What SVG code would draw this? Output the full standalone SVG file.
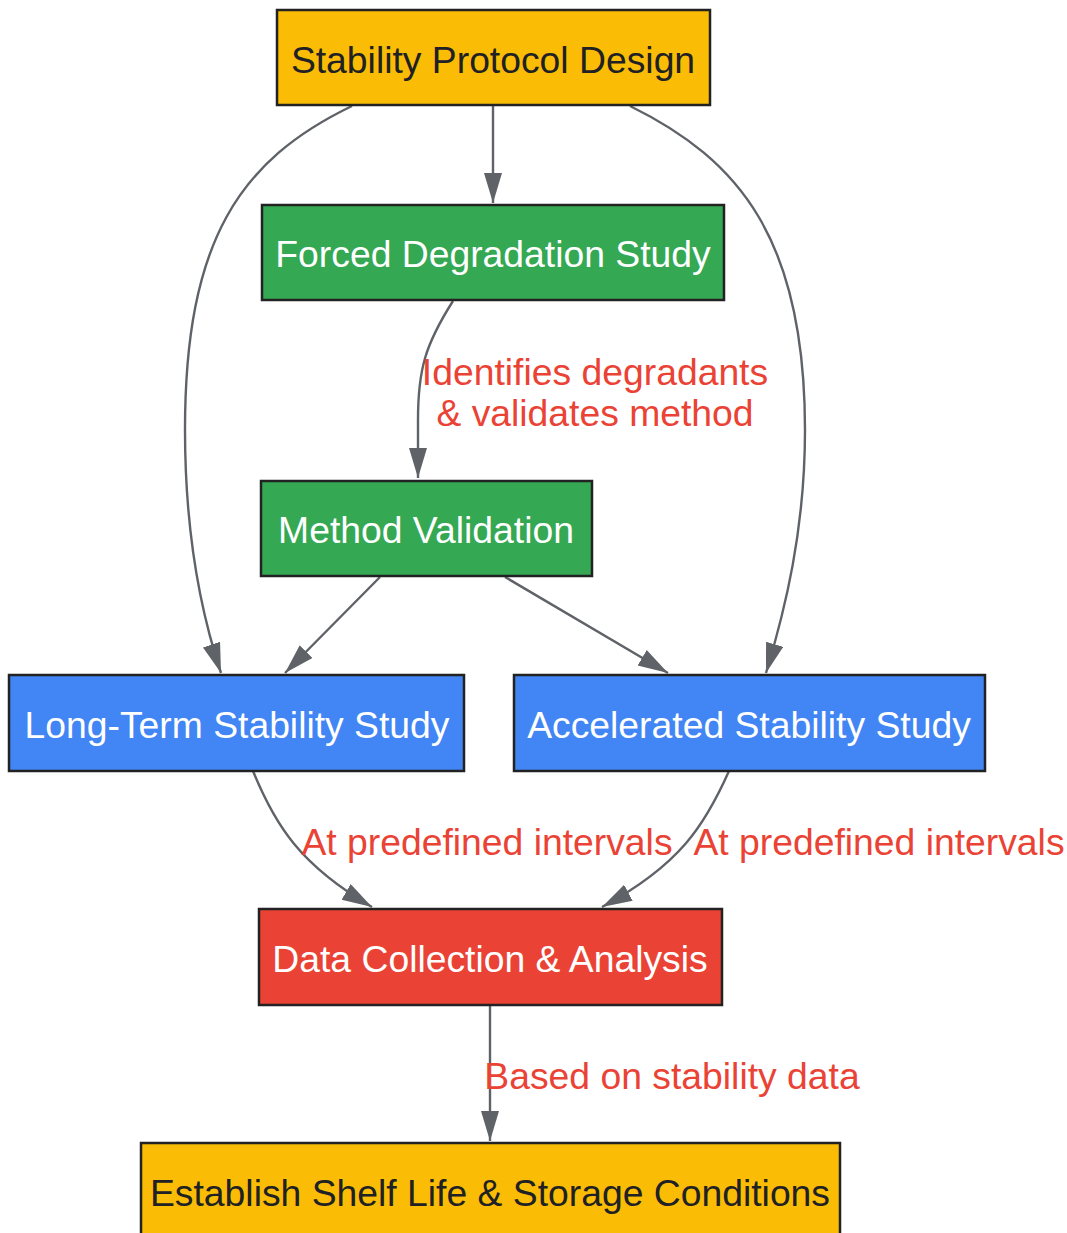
<svg xmlns="http://www.w3.org/2000/svg" width="1067" height="1233" viewBox="0 0 1067 1233">
<style>
.n rect{stroke:#222222;stroke-width:2.5}
.t{font-family:"Liberation Sans",Arial,sans-serif;font-size:37.3px;text-anchor:middle}
.dark{fill:#202124}
.light{fill:#ffffff}
.lbl{font-family:"Liberation Sans",Arial,sans-serif;font-size:37.3px;fill:#EA4335;text-anchor:middle}
.e path{fill:none;stroke:#5F6368;stroke-width:2.4}
</style>
<defs>
<marker id="ah" markerUnits="userSpaceOnUse" markerWidth="31" markerHeight="20" refX="30" refY="9" orient="auto">
<path d="M0,0 L30,9 L0,18 z" fill="#5F6368"/>
</marker>
</defs>
<rect width="1067" height="1233" fill="#ffffff"/>
<g id="edges" class="e">
<path d="M493,106 L493,203" marker-end="url(#ah)"/>
<path d="M352,106 C240,160 185,240 185,430 C185,530 200,610 221,673" marker-end="url(#ah)"/>
<path d="M630,106 C740,160 805,240 805,430 C805,530 785,610 766,673" marker-end="url(#ah)"/>
<path d="M453,301 C425,345 418,370 418,420 L418,478" marker-end="url(#ah)"/>
<path d="M380,577 L285,673" marker-end="url(#ah)"/>
<path d="M505,577 L668,673" marker-end="url(#ah)"/>
<path d="M253,771 C275,825 300,865 372,907" marker-end="url(#ah)"/>
<path d="M729,771 C705,825 680,865 602,907" marker-end="url(#ah)"/>
<path d="M490,1006 L490,1141" marker-end="url(#ah)"/>
</g>
<g id="edge-labels">
<text class="lbl" x="595" y="385">Identifies degradants</text>
<text class="lbl" x="595" y="426">&amp; validates method</text>
<text class="lbl" x="487" y="855">At predefined intervals</text>
<text class="lbl" x="879" y="855">At predefined intervals</text>
<text class="lbl" x="672" y="1089">Based on stability data</text>
</g>
<g id="protocol" class="n">
<rect x="277" y="10" width="433" height="95" fill="#FBBC05"/>
<text class="t dark" x="493" y="73">Stability Protocol Design</text>
</g>
<g id="forced" class="n">
<rect x="262" y="205" width="462" height="95" fill="#34A853"/>
<text class="t light" x="493" y="267">Forced Degradation Study</text>
</g>
<g id="method" class="n">
<rect x="261" y="481" width="331" height="95" fill="#34A853"/>
<text class="t light" x="426" y="543">Method Validation</text>
</g>
<g id="longterm" class="n">
<rect x="9" y="675" width="455" height="96" fill="#4285F4"/>
<text class="t light" x="237" y="738">Long-Term Stability Study</text>
</g>
<g id="accelerated" class="n">
<rect x="514" y="675" width="471" height="96" fill="#4285F4"/>
<text class="t light" x="749" y="738">Accelerated Stability Study</text>
</g>
<g id="data" class="n">
<rect x="259" y="909" width="463" height="96" fill="#EA4335"/>
<text class="t light" x="490" y="972">Data Collection &amp; Analysis</text>
</g>
<g id="shelf" class="n">
<rect x="141" y="1143" width="699" height="100" fill="#FBBC05"/>
<text class="t dark" x="490" y="1206">Establish Shelf Life &amp; Storage Conditions</text>
</g>
</svg>
